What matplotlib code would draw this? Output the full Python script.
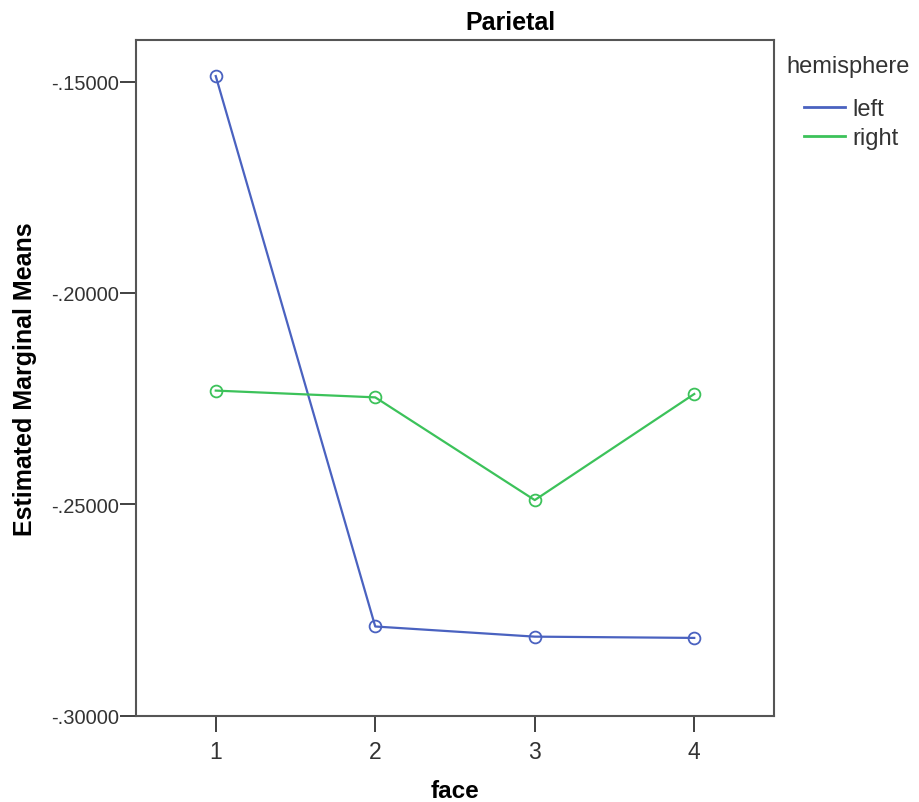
import matplotlib
matplotlib.use("Agg")
import matplotlib.pyplot as plt
from matplotlib.ticker import FuncFormatter

plt.rcParams["font.family"] = ["Liberation Sans", "DejaVu Sans"]

faces = [1, 2, 3, 4]
left_means = [-0.1487, -0.2789, -0.2813, -0.2816]
right_means = [-0.2231, -0.2247, -0.2490, -0.2239]
y_ticks = [-0.15, -0.20, -0.25, -0.30]

blue = "#4a62c0"
green = "#3cc25a"
axis_grey = "#333333"

fig = plt.figure(figsize=(9.19, 8.03), dpi=100)
ax = fig.add_axes([136 / 919, 1 - 716.7 / 803, (774 - 136) / 919, (716.7 - 40.7) / 803])

ax.plot(faces, left_means, color=blue, lw=1.6, marker="o", ms=8.5, mfc="none", mew=1.3, label="left")
ax.plot(faces, right_means, color=green, lw=1.6, marker="o", ms=8.5, mfc="none", mew=1.3, label="right")

ax.set_xlim(0.5, 4.5)
ax.set_ylim(-0.30, -0.1401)
ax.set_xticks(faces)
ax.set_yticks(y_ticks)
ax.yaxis.set_major_formatter(FuncFormatter(lambda v, p: f"{v:.5f}".replace("0.", ".")))

for s in ax.spines.values():
    s.set_color("#555555")
    s.set_linewidth(1.5)
ax.tick_params(axis="both", direction="out", length=11.5, width=1.3, color=axis_grey,
               labelcolor=axis_grey)
ax.tick_params(axis="y", labelsize=14.5, pad=1)
ax.tick_params(axis="x", labelsize=16.5, pad=6)

ax.set_xlabel("face", fontsize=17.5, fontweight="bold")
ax.set_ylabel("Estimated Marginal Means", fontsize=18, fontweight="bold")
ax.xaxis.set_label_coords(0.5, (716.7 - 780) / 676)
ax.yaxis.set_label_coords((37 - 136) / 638, 0.5)

fig.text(510 / 919, 1 - 23 / 803, "Parietal", fontsize=18, fontweight="bold", ha="center", va="center")

fig.text(786 / 919, 1 - 67 / 803, "hemisphere", fontsize=17, color=axis_grey, ha="left", va="center")
ax.legend(loc="upper left", bbox_to_anchor=(804 / 919, 1 - 99 / 803), bbox_transform=fig.transFigure,
          frameon=False, fontsize=17, handlelength=1.75, handletextpad=0.3, labelspacing=0.3,
          borderpad=0, borderaxespad=0, labelcolor=axis_grey)
for h in ax.get_legend().get_lines():
    h.set_marker("")
    h.set_linewidth(2)

fig.savefig("out.png", dpi=100)
